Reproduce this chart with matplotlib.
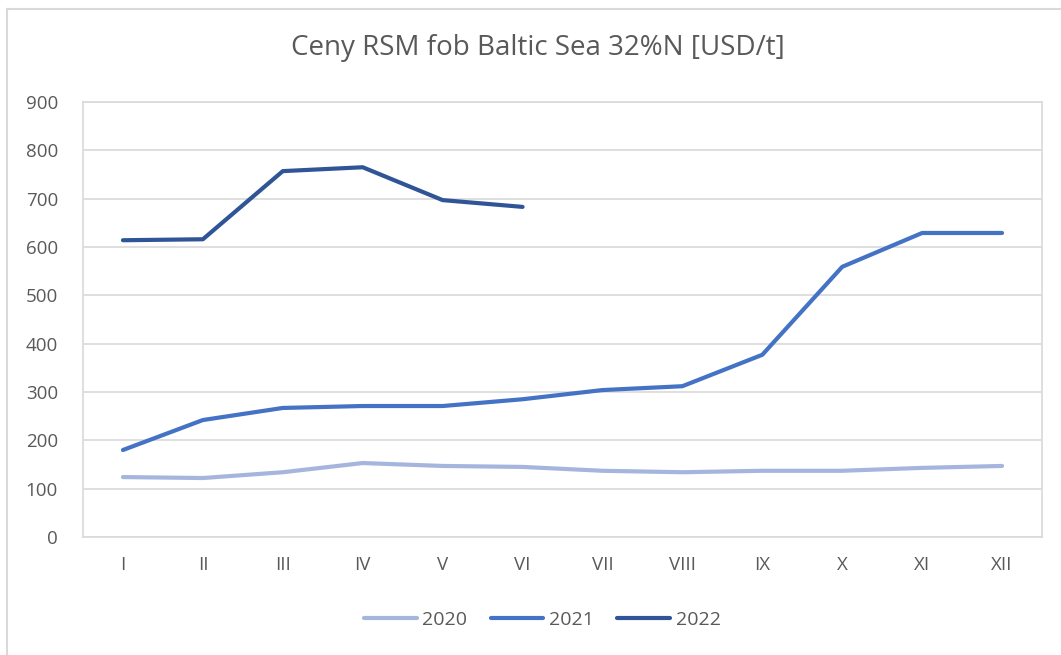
import matplotlib.pyplot as plt
from matplotlib.lines import Line2D

months = ["I", "II", "III", "IV", "V", "VI", "VII", "VIII", "IX", "X", "XI", "XII"]
y2020 = [124, 122, 134, 153, 147, 145, 137, 134, 137, 137, 143, 147]
y2021 = [180, 242, 267, 271, 271, 285, 304, 312, 377, 559, 629, 629]
y2022 = [614, 616, 757, 765, 697, 683]

plt.rcParams['font.family'] = ['Open Sans', 'DejaVu Sans']
txt = '#595959'
grid = '#D9D9D9'

fig = plt.figure(figsize=(10.61, 6.55), dpi=100)
# outer chart border (only left/top visible in the reference)
fig.add_artist(Line2D([7/1061, 7/1061], [0, 1 - 9/655], color=grid, lw=1.5))
fig.add_artist(Line2D([7/1061, 1], [1 - 9/655, 1 - 9/655], color=grid, lw=1.5))

ax = fig.add_axes([83/1061, 1 - 537/655, (1042 - 83)/1061, (537 - 102)/655])
x = list(range(len(months)))
ax.plot(x, y2020, color='#A5B5DD', lw=3, label='2020', solid_capstyle='round')
ax.plot(x, y2021, color='#4472C4', lw=3, label='2021', solid_capstyle='round')
ax.plot(x[:len(y2022)], y2022, color='#2F5597', lw=3, label='2022', solid_capstyle='round')

ax.set_xlim(-0.5, 11.5)
ax.set_ylim(0, 900)
ax.set_yticks(range(0, 901, 100))
ax.set_xticks(x)
ax.set_xticklabels(months)
ax.grid(axis='y', color=grid, lw=1.2)
ax.set_axisbelow(True)
for s in ax.spines.values():
    s.set_color(grid)
    s.set_linewidth(1.2)
ax.tick_params(length=0, colors=txt, labelsize=13.5)
ax.tick_params(axis='y', pad=18)
ax.tick_params(axis='x', pad=14)

fig.text(538/1061, 1 - 48/655, 'Ceny RSM fob Baltic Sea 32%N [USD/t]', ha='center', va='center',
         fontsize=20, color=txt)

ax.legend(loc='center', bbox_to_anchor=(0.479, -0.19), ncol=3, frameon=False, fontsize=14,
          labelcolor=txt, handlelength=2.7, columnspacing=1.2, handletextpad=0.3)

fig.savefig('out.png', dpi=100)
